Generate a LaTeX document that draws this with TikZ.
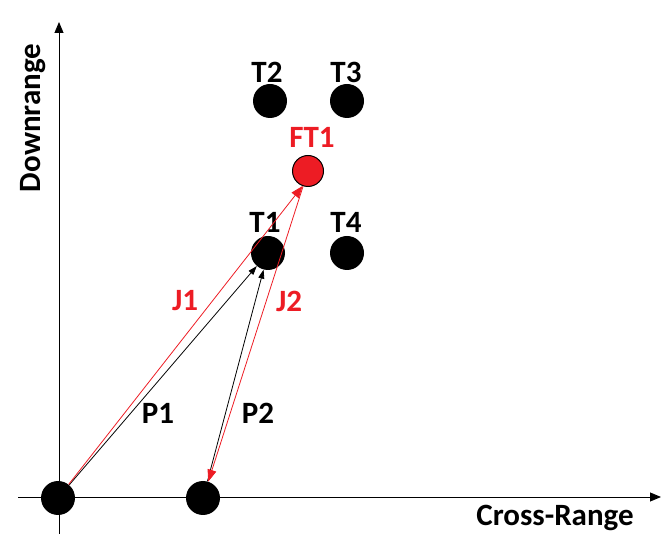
\documentclass[tikz,border=0pt]{standalone}
\usepackage{fontspec}
\setmainfont{Carlito}
\usepackage{tikz}
\usetikzlibrary{arrows.meta, positioning}

\definecolor{jamred}{RGB}{237,28,36}

\tikzset{
  target/.style={circle, fill=black, minimum size=34pt, inner sep=0pt},
  ftarget/.style={circle, draw=black, line width=1pt, fill=jamred, minimum size=31pt, inner sep=0pt},
  tag/.style={font=\fontsize{31}{35}\selectfont\bfseries, inner sep=0pt},
  axis/.style={line width=0.9pt, -{Triangle[length=11pt,width=9pt]}},
  path/.style={line width=0.8pt, -{Triangle[length=9pt,width=6pt]}},
  jam/.style={jamred, line width=0.8pt, -{Triangle[length=12pt,width=9pt]}},
}

\begin{document}
\begin{tikzpicture}[x=1pt, y=-1pt]
  \useasboundingbox (0,0) rectangle (662,534);

  % axes
  \coordinate (ybot) at (59,534);
  \coordinate (ytop) at (59,22);
  \coordinate (xleft) at (18,497);
  \coordinate (xright) at (661,497);
  \draw[axis] (ybot) -- (ytop);
  \draw[axis] (xleft) -- (xright);
  \node[tag, rotate=90] (ylab) at (33,118) {Downrange};
  \node[tag] (xlab) at (555,518) {Cross-Range};

  % radar positions and targets
  \node[target] (o) at (58,498) {};
  \node[target] (q) at (203,498) {};
  \node[target] (t1) at (268,253) {};
  \node[target] (t2) at (270,101) {};
  \node[target] (t3) at (347,101) {};
  \node[target] (t4) at (347,253) {};
  \node[ftarget] (ft1) at (308,171) {};

  \node[tag] (t1lab) at (265,222) {T1};
  \node[tag] (t2lab) at (267,72) {T2};
  \node[tag] (t3lab) at (346,72) {T3};
  \node[tag] (t4lab) at (346,222) {T4};
  \node[tag, text=jamred] (ftlab) at (312,137) {FT1};

  % true and jammed paths
  \draw[path] (o) -- (t1);
  \draw[path] (q) -- (t1);
  \draw[jam] (o) -- (ft1.250);
  \draw[jam] (ft1) -- (q);

  \node[tag, text=jamred] (j1) at (185,301) {J1};
  \node[tag, text=jamred] (j2) at (289,301) {J2};
  \node[tag] (p1) at (158,413) {P1};
  \node[tag] (p2) at (258,413) {P2};
\end{tikzpicture}
\end{document}
